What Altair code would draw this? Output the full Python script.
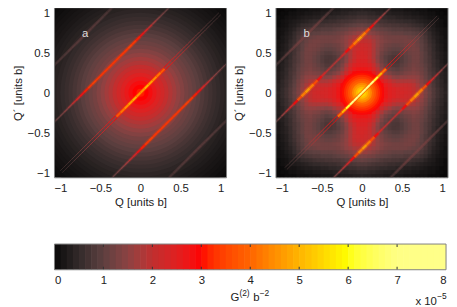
import altair as alt
import pandas as pd

FONT = "Liberation Sans"
TXT = "#222222"
FRAME = "#7f7f7f"

# colour map
cmap_stops = [0, 0.5, 1, 1.5, 2, 3, 4, 5, 6, 7, 8]
cmap_colors = ["#050505", "#332a2a", "#5e4040", "#8c4242", "#c02f2f", "#ff0000", "#ff6400", "#ffb400", "#ffff00", "#ffff85", "#ffffff"]
cscale = alt.Scale(domain=cmap_stops, range=cmap_colors, clamp=True)

ticks = [-1, -0.5, 0, 0.5, 1]
bar_ticks = [0, 1, 2, 3, 4, 5, 6, 7, 8]
bar_inner = [1, 2, 3, 4, 5, 6, 7]

# Panel a: radial background (radius, value /1e-5)
a_r = [1.5, 1.45, 1.4, 1.35, 1.3, 1.25, 1.2, 1.15, 1.1, 1.05, 1.0, 0.95, 0.9, 0.85, 0.8, 0.75, 0.7, 0.65, 0.6, 0.55,
       0.5, 0.45, 0.4, 0.35, 0.3, 0.25, 0.2, 0.15, 0.1, 0.05]
a_v = [0.05, 0.07, 0.1, 0.13, 0.17, 0.21, 0.26, 0.31, 0.37, 0.43, 0.5, 0.57, 0.65, 0.75, 0.85, 0.95, 1.05, 1.15, 1.25, 1.4,
       1.55, 1.7, 1.85, 2.05, 2.25, 2.45, 2.65, 2.85, 3.0, 3.1]

# Panel b: background table; row i = larger |Q| (step 0.05), column j = smaller |Q|
b_rows = [
    [5.6],
    [5.3, 5.1],
    [4.8, 4.6, 4.3],
    [4.0, 3.9, 3.7, 3.4],
    [3.3, 3.3, 3.2, 3.0, 2.7],
    [3.0, 3.0, 2.9, 2.6, 2.2, 1.8],
    [2.7, 2.7, 2.6, 2.3, 1.9, 1.5, 1.25],
    [2.5, 2.5, 2.4, 2.1, 1.7, 1.35, 1.1, 0.95],
    [2.4, 2.4, 2.2, 1.9, 1.5, 1.2, 1.0, 0.85, 0.8],
    [2.3, 2.3, 2.1, 1.8, 1.45, 1.15, 0.95, 0.85, 0.78, 0.8],
    [2.3, 2.25, 2.1, 1.8, 1.5, 1.2, 1.05, 0.95, 0.88, 0.88, 0.95],
    [2.25, 2.2, 2.1, 1.8, 1.5, 1.3, 1.15, 1.05, 1.0, 1.0, 1.05, 1.15],
    [2.2, 2.15, 2.05, 1.8, 1.55, 1.35, 1.2, 1.15, 1.1, 1.1, 1.15, 1.2, 1.25],
    [2.05, 2.0, 1.95, 1.75, 1.55, 1.4, 1.3, 1.25, 1.2, 1.2, 1.2, 1.25, 1.25, 1.2],
    [1.85, 1.85, 1.75, 1.6, 1.5, 1.35, 1.25, 1.2, 1.2, 1.2, 1.2, 1.2, 1.15, 1.1, 1.05],
    [1.6, 1.6, 1.5, 1.4, 1.3, 1.2, 1.15, 1.1, 1.05, 1.05, 1.05, 1.0, 1.0, 0.95, 0.9, 0.8],
    [1.35, 1.3, 1.25, 1.2, 1.1, 1.05, 1.0, 0.95, 0.9, 0.9, 0.9, 0.85, 0.85, 0.8, 0.75, 0.65, 0.55],
    [1.1, 1.05, 1.0, 0.95, 0.9, 0.85, 0.8, 0.8, 0.75, 0.75, 0.7, 0.7, 0.65, 0.6, 0.55, 0.5, 0.4, 0.3],
    [0.85, 0.85, 0.8, 0.75, 0.7, 0.7, 0.65, 0.6, 0.6, 0.55, 0.55, 0.5, 0.5, 0.45, 0.4, 0.35, 0.3, 0.25, 0.2],
    [0.65, 0.65, 0.6, 0.6, 0.55, 0.5, 0.5, 0.45, 0.45, 0.4, 0.4, 0.35, 0.35, 0.3, 0.3, 0.25, 0.2, 0.15, 0.15, 0.1],
    [0.5, 0.5, 0.45, 0.45, 0.4, 0.4, 0.35, 0.35, 0.3, 0.3, 0.3, 0.25, 0.25, 0.2, 0.2, 0.15, 0.15, 0.1, 0.1, 0.05, 0.05],
    [0.4, 0.35, 0.35, 0.3, 0.3, 0.3, 0.25, 0.25, 0.2, 0.2, 0.2, 0.15, 0.15, 0.15, 0.1, 0.1, 0.1, 0.05, 0.05, 0.05, 0.02, 0.02],
]
b_core_r = [0.275, 0.25, 0.225, 0.2, 0.175, 0.15, 0.125, 0.1, 0.075, 0.05, 0.025]
b_core_v = [2.9, 3.05, 3.2, 3.4, 3.7, 4.0, 4.4, 4.7, 5.1, 5.4, 5.6]

# Streak brightness read along each diagonal, position s = (Q+Q')/2
s_pos = [0, 0.05, 0.1, 0.15, 0.2, 0.25, 0.3, 0.35, 0.4, 0.45, 0.5, 0.55, 0.6, 0.65, 0.7, 0.75, 0.8, 0.85, 0.9, 0.95, 0.99]
off_mid = 0.71
off_far = 1.42
off_side = 0.024
a_mid = [3.3, 3.3, 3.3, 3.3, 3.4, 3.3, 3.1, 2.8, 2.4, 2.0, 1.7, 1.5, 1.3, 1.15, 1.0]
a_far = [1.15, 1.1, 1.1, 1.05, 1.0, 0.95, 0.85, 0.75]
a_core = [4.6, 5.0, 4.8, 4.5, 4.2, 3.8]
a_side = [3.4, 3.4, 3.4, 3.3, 3.3, 3.2, 3.0, 2.8, 2.6, 2.4, 2.2, 2.0, 1.8, 1.65, 1.5, 1.35, 1.2, 1.05, 0.95, 0.85]
b_mid = [1.9, 2.0, 2.3, 2.9, 3.6, 4.3, 4.7, 4.3, 3.6, 2.9, 2.3, 1.9, 1.6, 1.3, 1.1]
b_far = [1.35, 1.35, 1.3, 1.25, 1.15, 1.05, 0.9, 0.7]
b_core = [8, 8, 7.2, 6.2, 5.0, 4.2]
b_side = [3.8, 3.8, 3.7, 3.6, 3.5, 3.3, 3.0, 2.8, 2.6, 2.4, 2.2, 2.0, 1.8, 1.6, 1.45, 1.3, 1.15, 1.0, 0.9]

xdom = [-1.0741, 1.0741]
ydom = [-1.0657, 1.0657]
PW, PH = 174, 172
x_scale = alt.Scale(domain=xdom, nice=False, zero=False)
y_scale = alt.Scale(domain=ydom, nice=False, zero=False)


def segs(c, vals):
    rows = []
    for k, v in enumerate(vals):
        s0, s1 = s_pos[k], s_pos[k + 1]
        rows.append(dict(x0=s0 - c / 2, y0=s0 + c / 2, x1=s1 - c / 2, y1=s1 + c / 2, v=v))
        rows.append(dict(x0=-s0 + c / 2, y0=-s0 - c / 2, x1=-s1 + c / 2, y1=-s1 - c / 2, v=v))
    return rows


def rules(rows, wmin, wmax, opacity=1.0):
    return alt.Chart(pd.DataFrame(rows)).mark_rule(clip=True, opacity=opacity, strokeCap="butt").encode(
        x=alt.X("x0:Q", scale=x_scale),
        x2="x1:Q",
        y=alt.Y("y0:Q", scale=y_scale),
        y2="y1:Q",
        color=alt.Color("v:Q", scale=cscale, legend=None),
        size=alt.Size("v:Q", scale=alt.Scale(type="linear", domain=[1, 4.5], range=[wmin, wmax], clamp=True, zero=False), legend=None),
    )


def rings(rs, vs):
    return alt.Chart(pd.DataFrame(dict(r=rs, v=vs))).mark_arc(clip=True, theta=0, theta2=6.2832).encode(
        radius=alt.Radius("r:Q", stack=None, scale=alt.Scale(type="linear", domain=[0, 1], range=[0, 81], zero=True)),
        x=alt.value(PW / 2),
        y=alt.value(PH / 2),
        color=alt.Color("v:Q", scale=cscale, legend=None),
    )


def frame_and_axes(label):
    base = alt.Chart(pd.DataFrame(dict(t=ticks))).mark_point(opacity=0).encode(
        x=alt.X("t:Q", scale=x_scale, axis=alt.Axis(values=ticks, title="Q [units b]", grid=False, tickSize=0, domain=False,
                                                     labelPadding=5, titlePadding=3, format="~g")),
        y=alt.Y("t:Q", scale=y_scale, axis=alt.Axis(values=ticks, title="Q´ [units b]", grid=False, tickSize=0, domain=False,
                                                     labelPadding=5, titlePadding=4, format="~g", labelOffset=1)),
    )
    lab = alt.Chart(pd.DataFrame(dict(x=[-0.69], y=[0.73], t=[label]))).mark_text(
        font=FONT, fontSize=11.5, color="#dddddd").encode(
        x=alt.X("x:Q", scale=x_scale), y=alt.Y("y:Q", scale=y_scale), text="t:N")
    box = alt.Chart(pd.DataFrame(dict(a=[0]))).mark_rect(fillOpacity=0, stroke=FRAME, strokeWidth=1).encode(
        x=alt.value(0), x2=alt.value(PW), y=alt.value(0), y2=alt.value(PH))
    return [base, lab, box]


def streaks(mid, far, side, core):
    out = []
    all_mid = segs(off_mid, mid) + segs(-off_mid, mid)
    all_far = segs(off_far, far) + segs(-off_far, far)
    out.append(rules(all_mid, 2.5, 5, 0.3))
    out.append(rules(all_mid, 1.0, 2.4, 0.9))
    out.append(rules(all_far, 3, 3.5, 0.45))
    out.append(rules(all_far, 1.2, 1.5, 0.5))
    out.append(rules(segs(off_side, side) + segs(-off_side, side), 0.7, 1.2, 0.85))
    out.append(rules(segs(0, core), 1.3, 2.0))
    return out


# Panel a
panel_a = alt.layer(rings(a_r, a_v), *streaks(a_mid, a_far, a_side, a_core), *frame_and_axes("a")).resolve_scale(
    size="independent").properties(width=PW, height=PH)

# Panel b
cells = []
for i, row in enumerate(b_rows):
    for j, v in enumerate(row):
        for (p, q) in {(i, j), (j, i)}:
            for sx in {1, -1 if p else 1}:
                for sy in {1, -1 if q else 1}:
                    cx, cy = sx * p * 0.05, sy * q * 0.05
                    cells.append(dict(x0=cx - 0.03, x1=cx + 0.03, y0=cy - 0.03, y1=cy + 0.03, v=v))
grid = alt.Chart(pd.DataFrame(cells)).mark_rect(clip=True, strokeWidth=0).encode(
    x=alt.X("x0:Q", scale=x_scale), x2="x1:Q", y=alt.Y("y0:Q", scale=y_scale), y2="y1:Q",
    color=alt.Color("v:Q", scale=cscale, legend=None))
panel_b = alt.layer(grid, rings(b_core_r, b_core_v), *streaks(b_mid, b_far, b_side, b_core), *frame_and_axes("b")).resolve_scale(
    size="independent").properties(width=PW, height=PH)

# Colour bar
bar_levels = [k for k in range(64)]
bar_df = pd.DataFrame(dict(a=[k / 8 for k in bar_levels], b=[min((k + 1.1) / 8, 8) for k in bar_levels], v=[(k + 0.5) / 8 for k in bar_levels]))
bx = alt.Scale(domain=[0, 8], nice=False, zero=False)
BW, BH = 396, 26
bar = alt.Chart(bar_df).mark_rect(strokeWidth=0).encode(
    x=alt.X("a:Q", scale=bx, axis=alt.Axis(values=bar_ticks, title=None, grid=False, tickSize=0, domain=False, labelPadding=5, format="d")),
    x2="b:Q",
    color=alt.Color("v:Q", scale=cscale, legend=None),
)
tick_df = pd.DataFrame(dict(t=bar_inner))
t_top = alt.Chart(tick_df).mark_rule(color="#333333", strokeWidth=1).encode(
    x=alt.X("t:Q", scale=bx), y=alt.value(0), y2=alt.value(3))
t_bot = alt.Chart(tick_df).mark_rule(color="#333333", strokeWidth=1).encode(
    x=alt.X("t:Q", scale=bx), y=alt.value(BH - 3), y2=alt.value(BH))
box2 = alt.Chart(pd.DataFrame(dict(a=[0]))).mark_rect(fillOpacity=0, stroke=FRAME, strokeWidth=1).encode(
    x=alt.value(0), x2=alt.value(BW), y=alt.value(0), y2=alt.value(BH))


def label(txt, px, py, size=11.5, align="left"):
    return alt.Chart(pd.DataFrame(dict(t=[txt]))).mark_text(font=FONT, fontSize=size, color=TXT, align=align, baseline="alphabetic").encode(
        x=alt.value(px), y=alt.value(py), text="t:N")


labels = [
    label("G", 178, 58),
    label("(2)", 187, 53, 8.5),
    label("b", 201, 58),
    label("−2", 207.5, 53, 8.5),
    label("x 10", 365, 62),
    label("−5", 387, 56, 8.5),
]
colorbar = alt.layer(bar, t_top, t_bot, box2, *labels).properties(width=BW, height=BH)

top = alt.hconcat(panel_a, panel_b, spacing=50, bounds="flush")
chart = alt.vconcat(top, colorbar, spacing=35).properties(
    padding={"left": 4, "top": -3, "right": 0, "bottom": 0}
).configure(font=FONT).configure_axis(
    labelFont=FONT, titleFont=FONT, labelFontSize=11.5, titleFontSize=11.5, labelColor=TXT, titleColor=TXT,
    titleFontWeight="normal",
).configure_view(stroke=None)

chart.save("out.html", embed_options={"renderer": "svg", "actions": False})
